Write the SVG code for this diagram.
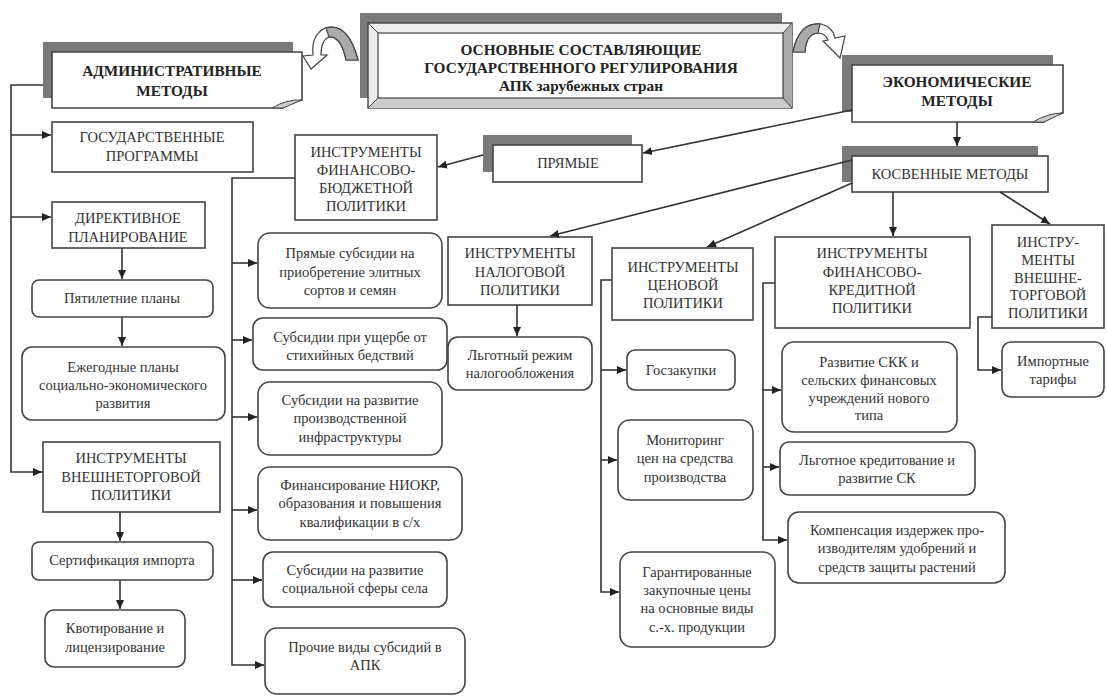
<svg xmlns="http://www.w3.org/2000/svg" width="1107" height="697" viewBox="0 0 1107 697" font-family="'Liberation Serif', 'DejaVu Serif', serif">
<defs>
<style>
text{font-family:'Liberation Serif','DejaVu Serif',serif}
.t{font-size:14.5px;fill:#333;text-anchor:middle}
.b{font-size:15.3px;font-weight:bold;fill:#222;text-anchor:middle}
.box{fill:#fff;stroke:#444;stroke-width:1.6}
.sh{fill:#7a7a7a}
.c{fill:none;stroke:#333;stroke-width:1.6}
</style>
<marker id="a" markerWidth="10" markerHeight="10" refX="9" refY="5" orient="auto" markerUnits="userSpaceOnUse">
<path d="M0,1 L9,5 L0,9 Z" fill="#222"/>
</marker>
</defs>
<rect width="1107" height="697" fill="#fff"/>

<g id="admin">
<rect class="sh" x="43" y="42" width="250" height="56"/>
<path class="box" d="M52,52 H302 V100 Q290,102 283,108 H52 Z"/>
<path d="M272,108 Q287,99 302,100 L283,108 Z" fill="#ccc" stroke="#444" stroke-width="1"/>
<text class="b" x="172" y="76">АДМИНИСТРАТИВНЫЕ</text>
<text class="b" x="172" y="96">МЕТОДЫ</text>
</g>

<g id="curl-left">
<path d="M358,60 Q348,22 325,28 Q311,35 313,55 L303,56 L311,69 L327,55 L321,55 Q321,40 329,37 Q341,36 346,60 Z" fill="#fff" stroke="#444" stroke-width="1.2"/>
<path d="M358,60 Q348,22 326,28 L329,37 Q341,36 346,60 Z" fill="#aaa" stroke="#444" stroke-width="1.2"/>
</g>

<g id="central">
<rect class="sh" x="360" y="13" width="422" height="85"/>
<rect x="368" y="23" width="424" height="85" fill="#eee" stroke="#444" stroke-width="1.4"/>
<path d="M783,33 L792,23 V108 L783,98 Z" fill="#aaa"/>
<path d="M378,98 H783 L792,108 H368 Z" fill="#ccc"/>
<rect x="378" y="33" width="405" height="65" fill="#fff" stroke="#444" stroke-width="1.2"/>
<path d="M368,23 L378,33 M792,23 L783,33 M368,108 L378,98 M792,108 L783,98" stroke="#444" stroke-width="1"/>
<text class="b" x="581" y="55">ОСНОВНЫЕ СОСТАВЛЯЮЩИЕ</text>
<text class="b" x="581" y="73">ГОСУДАРСТВЕННОГО РЕГУЛИРОВАНИЯ</text>
<text class="b" x="581" y="91">АПК зарубежных стран</text>
</g>

<g id="curl-right">
<path d="M793,52 Q799,22 821,24 Q833,27 835,38 L845,36 L840,58 L823,41 L828,40 Q825,33 818,33 Q806,34 805,52 Z" fill="#fff" stroke="#444" stroke-width="1.2"/>
<path d="M793,52 Q799,22 820,24 L818,33 Q806,34 805,52 Z" fill="#aaa" stroke="#444" stroke-width="1.2"/>
</g>

<g id="econ">
<rect class="sh" x="842" y="55" width="211" height="57"/>
<path class="box" d="M852,65 H1063 V113 Q1052,115 1044,122 H852 Z"/>
<path d="M1033,122 Q1048,113 1063,113 L1044,122 Z" fill="#ccc" stroke="#444" stroke-width="1"/>
<text class="b" x="957" y="87">ЭКОНОМИЧЕСКИЕ</text>
<text class="b" x="957" y="106">МЕТОДЫ</text>
</g>

<g id="kosv">
<rect class="sh" x="842" y="146" width="196" height="36"/>
<rect class="box" x="852" y="156" width="196" height="36"/>
<text class="t" x="950" y="179">КОСВЕННЫЕ МЕТОДЫ</text>
</g>

<g id="pryamye">
<rect class="sh" x="483" y="135" width="149" height="37"/>
<rect class="box" x="493" y="145" width="149" height="37"/>
<text class="t" x="568" y="168">ПРЯМЫЕ</text>
</g>

<g id="gosprog">
<rect class="box" x="52" y="122" width="201" height="50"/>
<text class="t" x="152" y="142">ГОСУДАРСТВЕННЫЕ</text>
<text class="t" x="152" y="161">ПРОГРАММЫ</text>
</g>

<g id="direkt">
<rect class="box" x="52" y="202" width="153" height="46"/>
<text class="t" x="128" y="223">ДИРЕКТИВНОЕ</text>
<text class="t" x="128" y="242">ПЛАНИРОВАНИЕ</text>
</g>

<g id="pyatilet">
<rect class="box" x="32" y="280" width="181" height="37" rx="7"/>
<text class="t" x="122" y="303">Пятилетние планы</text>
</g>

<g id="ezhegod">
<rect class="box" x="22" y="347" width="203" height="73" rx="10"/>
<text class="t" x="123" y="372">Ежегодные планы</text>
<text class="t" x="123" y="390">социально-экономического</text>
<text class="t" x="123" y="408">развития</text>
</g>

<g id="vneshtorg-left">
<rect class="box" x="43" y="442" width="177" height="70"/>
<text class="t" x="131" y="463">ИНСТРУМЕНТЫ</text>
<text class="t" x="131" y="482">ВНЕШНЕТОРГОВОЙ</text>
<text class="t" x="131" y="500">ПОЛИТИКИ</text>
</g>

<g id="sertif">
<rect class="box" x="32" y="542" width="181" height="38" rx="7"/>
<text class="t" x="122" y="565">Сертификация импорта</text>
</g>

<g id="kvot">
<rect class="box" x="45" y="610" width="140" height="57" rx="9"/>
<text class="t" x="115" y="633">Квотирование и</text>
<text class="t" x="115" y="652">лицензирование</text>
</g>

<g id="finbudzh">
<rect class="box" x="295" y="135" width="142" height="85"/>
<text class="t" x="366" y="157">ИНСТРУМЕНТЫ</text>
<text class="t" x="366" y="175">ФИНАНСОВО-</text>
<text class="t" x="366" y="193">БЮДЖЕТНОЙ</text>
<text class="t" x="366" y="211">ПОЛИТИКИ</text>
</g>

<g id="sub1">
<rect class="box" x="258" y="233" width="184" height="75" rx="12"/>
<text class="t" x="350" y="258">Прямые субсидии на</text>
<text class="t" x="350" y="277">приобретение элитных</text>
<text class="t" x="350" y="295">сортов и семян</text>
</g>

<g id="sub2">
<rect class="box" x="253" y="318" width="194" height="52" rx="10"/>
<text class="t" x="350" y="342">Субсидии при ущербе от</text>
<text class="t" x="350" y="360">стихийных бедствий</text>
</g>

<g id="sub3">
<rect class="box" x="258" y="382" width="184" height="73" rx="12"/>
<text class="t" x="350" y="405">Субсидии на развитие</text>
<text class="t" x="350" y="423">производственной</text>
<text class="t" x="350" y="442">инфраструктуры</text>
</g>

<g id="sub4">
<rect class="box" x="258" y="467" width="204" height="73" rx="12"/>
<text class="t" x="360" y="490">Финансирование НИОКР,</text>
<text class="t" x="360" y="508">образования и повышения</text>
<text class="t" x="360" y="527">квалификации в с/х</text>
</g>

<g id="sub5">
<rect class="box" x="263" y="552" width="184" height="55" rx="10"/>
<text class="t" x="355" y="575">Субсидии на развитие</text>
<text class="t" x="355" y="593">социальной сферы села</text>
</g>

<g id="sub6">
<rect class="box" x="265" y="628" width="200" height="66" rx="12"/>
<text class="t" x="365" y="652">Прочие виды субсидий в</text>
<text class="t" x="365" y="670">АПК</text>
</g>

<g id="nalog">
<rect class="box" x="448" y="237" width="144" height="68"/>
<text class="t" x="520" y="258">ИНСТРУМЕНТЫ</text>
<text class="t" x="520" y="277">НАЛОГОВОЙ</text>
<text class="t" x="520" y="295">ПОЛИТИКИ</text>
</g>

<g id="lgotny">
<rect class="box" x="448" y="337" width="144" height="53" rx="10"/>
<text class="t" x="520" y="360">Льготный режим</text>
<text class="t" x="520" y="378">налогообложения</text>
</g>

<g id="cenovoy">
<rect class="box" x="612" y="248" width="141" height="72"/>
<text class="t" x="683" y="272">ИНСТРУМЕНТЫ</text>
<text class="t" x="683" y="290">ЦЕНОВОЙ</text>
<text class="t" x="683" y="308">ПОЛИТИКИ</text>
</g>

<g id="goszak">
<rect class="box" x="627" y="350" width="108" height="40" rx="8"/>
<text class="t" x="681" y="375">Госзакупки</text>
</g>

<g id="monitor">
<rect class="box" x="618" y="420" width="135" height="80" rx="12"/>
<text class="t" x="685" y="445">Мониторинг</text>
<text class="t" x="685" y="463">цен на средства</text>
<text class="t" x="685" y="482">производства</text>
</g>

<g id="garant">
<rect class="box" x="620" y="552" width="155" height="95" rx="12"/>
<text class="t" x="697" y="577">Гарантированные</text>
<text class="t" x="697" y="595">закупочные цены</text>
<text class="t" x="697" y="613">на основные виды</text>
<text class="t" x="697" y="632">с.-х. продукции</text>
</g>

<g id="kredit">
<rect class="box" x="775" y="237" width="195" height="91"/>
<text class="t" x="872" y="258">ИНСТРУМЕНТЫ</text>
<text class="t" x="872" y="277">ФИНАНСОВО-</text>
<text class="t" x="872" y="295">КРЕДИТНОЙ</text>
<text class="t" x="872" y="313">ПОЛИТИКИ</text>
</g>

<g id="skk">
<rect class="box" x="782" y="342" width="175" height="90" rx="12"/>
<text class="t" x="869" y="367">Развитие СКК и</text>
<text class="t" x="869" y="385">сельских финансовых</text>
<text class="t" x="869" y="403">учреждений нового</text>
<text class="t" x="869" y="420">типа</text>
</g>

<g id="lgotkred">
<rect class="box" x="780" y="442" width="195" height="53" rx="9"/>
<text class="t" x="877" y="465">Льготное кредитование и</text>
<text class="t" x="877" y="483">развитие СК</text>
</g>

<g id="kompens">
<rect class="box" x="788" y="512" width="217" height="71" rx="11"/>
<text class="t" x="897" y="535">Компенсация издержек про-</text>
<text class="t" x="897" y="553">изводителям удобрений и</text>
<text class="t" x="897" y="572">средств защиты растений</text>
</g>

<g id="vneshtorg-right">
<rect class="box" x="992" y="225" width="112" height="103"/>
<text class="t" x="1048" y="247">ИНСТРУ-</text>
<text class="t" x="1048" y="265">МЕНТЫ</text>
<text class="t" x="1048" y="283">ВНЕШНЕ-</text>
<text class="t" x="1048" y="300">ТОРГОВОЙ</text>
<text class="t" x="1048" y="318">ПОЛИТИКИ</text>
</g>

<g id="import">
<rect class="box" x="1002" y="342" width="102" height="55" rx="9"/>
<text class="t" x="1053" y="366">Импортные</text>
<text class="t" x="1053" y="384">тарифы</text>
</g>

<g id="connectors">
<path class="c" d="M43,85 H11 V472 H42" marker-end="url(#a)"/>
<path class="c" d="M11,135 H51" marker-end="url(#a)"/>
<path class="c" d="M11,217 H51" marker-end="url(#a)"/>
<path class="c" d="M122,248 V279" marker-end="url(#a)"/>
<path class="c" d="M122,317 V346" marker-end="url(#a)"/>
<path class="c" d="M120,512 V541" marker-end="url(#a)"/>
<path class="c" d="M120,580 V609" marker-end="url(#a)"/>
<path class="c" d="M295,178 H232 V665 H264" marker-end="url(#a)"/>
<path class="c" d="M232,263 H257" marker-end="url(#a)"/>
<path class="c" d="M232,340 H252" marker-end="url(#a)"/>
<path class="c" d="M232,417 H257" marker-end="url(#a)"/>
<path class="c" d="M232,510 H257" marker-end="url(#a)"/>
<path class="c" d="M232,580 H262" marker-end="url(#a)"/>
<path class="c" d="M852,110 L643,153" marker-end="url(#a)"/>
<path class="c" d="M483,155 L438,167" marker-end="url(#a)"/>
<path class="c" d="M957,122 V146" marker-end="url(#a)"/>
<path class="c" d="M852,160 L550,236" marker-end="url(#a)"/>
<path class="c" d="M852,183 L707,247" marker-end="url(#a)"/>
<path class="c" d="M893,192 V236" marker-end="url(#a)"/>
<path class="c" d="M1000,192 L1050,224" marker-end="url(#a)"/>
<path class="c" d="M517,305 V336" marker-end="url(#a)"/>
<path class="c" d="M612,280 H601 V592 H619" marker-end="url(#a)"/>
<path class="c" d="M601,370 H626" marker-end="url(#a)"/>
<path class="c" d="M601,460 H617" marker-end="url(#a)"/>
<path class="c" d="M775,283 H763 V540 H787" marker-end="url(#a)"/>
<path class="c" d="M763,390 H781" marker-end="url(#a)"/>
<path class="c" d="M763,467 H779" marker-end="url(#a)"/>
<path class="c" d="M992,317 H978 V370 H1001" marker-end="url(#a)"/>
</g>
</svg>
